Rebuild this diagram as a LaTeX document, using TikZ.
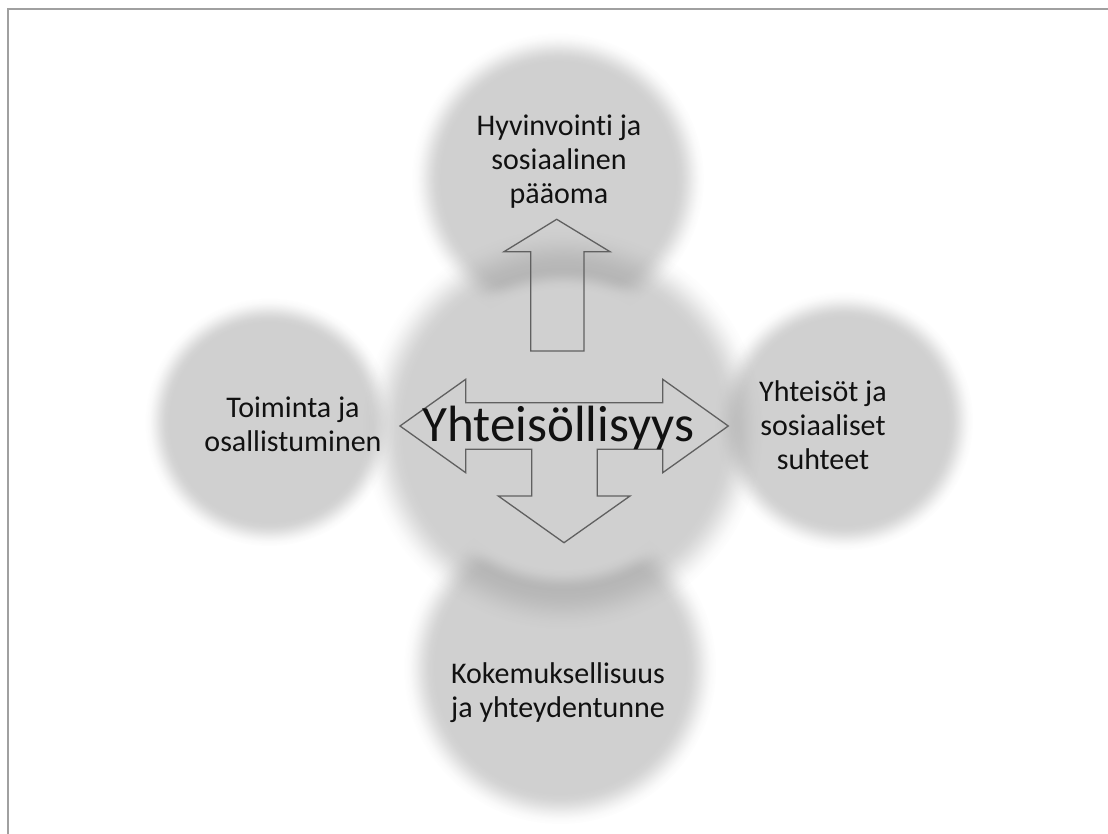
\documentclass[tikz,border=0pt]{standalone}
\usepackage{fontspec}
\setmainfont{Carlito}[Ligatures={NoCommon,NoRequired,NoContextual}]
\usetikzlibrary{fadings}
\definecolor{core}{HTML}{D0D0D0}
\definecolor{rim}{HTML}{999999}
\definecolor{arrowline}{HTML}{606060}
\definecolor{framegray}{HTML}{A0A0A0}
\definecolor{txt}{HTML}{111111}
% mask levels
\definecolor{mA}{rgb}{0.46,0.46,0.46}
\definecolor{mB}{rgb}{0.412,0.412,0.412}
\definecolor{mC}{rgb}{0.298,0.298,0.298}
\definecolor{mD}{rgb}{0.162,0.162,0.162}
\definecolor{mE}{rgb}{0.048,0.048,0.048}
\definecolor{cA}{rgb}{0.844,0.844,0.844}
\definecolor{cB}{rgb}{0.5,0.5,0.5}
\definecolor{cC}{rgb}{0.156,0.156,0.156}
\pgfdeclareradialshading{rimmask}{\pgfpointorigin}{color(0bp)=(mA); color(20bp)=(mA); color(21bp)=(mB); color(22bp)=(mC); color(23bp)=(mD); color(24bp)=(mE); color(25bp)=(black); color(50bp)=(black)}
\pgfdeclarefading{rimfade}{\pgfuseshading{rimmask}}
\pgfdeclareradialshading{coremask}{\pgfpointorigin}{color(0bp)=(white); color(17.5bp)=(white); color(18.125bp)=(cA); color(18.75bp)=(cB); color(19.375bp)=(cC); color(20bp)=(black); color(50bp)=(black)}
\pgfdeclarefading{corefade}{\pgfuseshading{coremask}}
% soft-edged disc: centre x, centre y, outer radius
\newcommand{\softdisc}[3]{%
  \fill[rim, path fading=rimfade, fit fading=true] (#1,#2) circle (#3pt);
  \fill[core, path fading=corefade, fit fading=true] (#1,#2) circle (#3pt);
}
\begin{document}
\begin{tikzpicture}[x=1pt,y=-1pt,
  arrowshape/.style={draw=arrowline, line width=1.3pt, line join=miter},
  lbl/.style={font=\fontsize{30}{34}\selectfont, text=txt, align=center, inner sep=0pt, anchor=base},
  bigtext/.style={font=\fontsize{51}{60}\selectfont, text=txt, inner sep=0pt, anchor=base}]
\useasboundingbox[fill=white] (0,0) rectangle (1108,834);
\draw[framegray, line width=1.8pt] (7.7,834) -- (7.7,8.8) -- (1108,8.8);
% soft circles
\softdisc{558}{179}{146}
\softdisc{269}{422}{124}
\softdisc{844}{421}{129}
\softdisc{560}{668}{156}
\softdisc{563}{429}{200}
% up arrow
\draw[arrowshape] (556.7,219.3) -- (610,251.7) -- (584,251.7) -- (584,351) -- (530.7,351) -- (530.7,251.7) -- (504,251.7) -- cycle;
% left-right-down arrow
\draw[arrowshape] (400,426) -- (465.7,379.3) -- (465.7,402.7) -- (662.7,402.7) -- (662.7,379.3) -- (728.3,426) -- (662.7,472.7) -- (662.7,449.3) -- (597.3,449.3) -- (597.3,496) -- (630,496) -- (564,542.7) -- (498.3,496) -- (531.7,496) -- (531.7,449.3) -- (465.7,449.3) -- (465.7,472.7) -- cycle;
% texts
\node[bigtext] (center) at (558.3,441.7) {Yhteisöllisyys};
\node[lbl] (top) at (559,204) {Hyvinvointi ja\\sosiaalinen\\pääoma};
\node[lbl] (left) at (293,451.7) {Toiminta ja\\osallistuminen};
\node[lbl] (right) at (823,469) {Yhteisöt ja\\sosiaaliset\\suhteet};
\node[lbl] (bottom) at (558,717) {Kokemuksellisuus\\ja yhteydentunne};
\end{tikzpicture}
\end{document}
